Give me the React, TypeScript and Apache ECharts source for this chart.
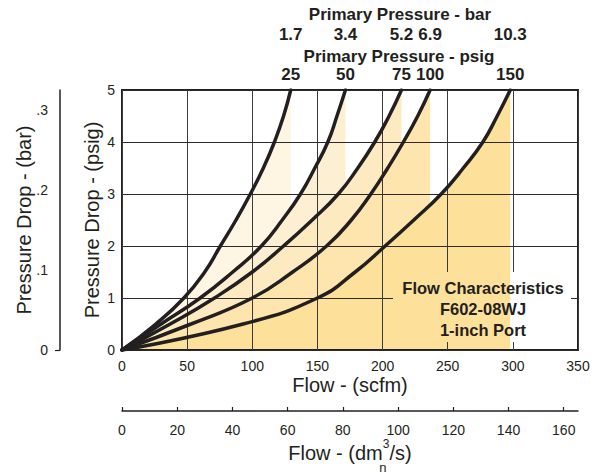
import React, { useEffect, useRef } from "react";
import * as echarts from "echarts";

// Pressure drop (psig) at which each curve's flow was read
const dropPsig = [0, 0.5, 1, 1.5, 2, 2.5, 3, 3.5, 4, 4.5, 5];
// Flow (scfm) of each primary-pressure curve at those pressure drops
const flow25 = [0, 26, 47.5, 63.5, 75.5, 87.5, 98.5, 108.5, 117, 124, 129.5];
const flow50 = [0, 30, 60, 85, 107, 123, 137, 148, 158, 165, 171.5];
const flow75 = [0, 37, 71, 100, 124, 146, 166, 181, 194, 205, 214.5];
const flow100 = [0, 53, 100, 131, 157, 176, 191, 204, 216, 227, 236.5];
const flow150 = [0, 93, 150, 179, 202, 224, 245, 262, 277, 288, 298];
const curveFlows = [flow25, flow50, flow75, flow100, flow150];

const primaryPsigLabels = ["25", "50", "75", "100", "150"];
const primaryBarLabels = ["1.7", "3.4", "5.2", "6.9", "10.3"];
const fillColors = ["#FEF6E2", "#FDF0D2", "#FDEAC1", "#FEE5AD", "#FDE19B"];

const dmTicks = [0, 20, 40, 60, 80, 100, 120, 140, 160];
const barTicks = [0, 0.1, 0.2, 0.3];
const SCFM_MAX = 350;
const SCFM_TO_DM3S = 0.4719;
const BAR_AXIS_MAX = 0.325;

const INK = "#231f20";
const FONT = "Liberation Sans, Arial, Helvetica, sans-serif";

const endFlows = curveFlows.map((f) => f[f.length - 1]);
const nearestEnd = (v: number) => {
  let best = 0;
  endFlows.forEach((e, i) => {
    if (Math.abs(e - v) < Math.abs(endFlows[best] - v)) best = i;
  });
  return best;
};

export default function App() {
  const ref = useRef<HTMLDivElement>(null);
  useEffect(() => {
    if (!ref.current) return;
    const chart = echarts.init(ref.current, null, { renderer: "svg" });
    const pts = (f: number[]) => f.map((x, j) => [x, dropPsig[j]]);
    const areaSeries = curveFlows.map((f, i) => ({
      type: "line",
      xAxisIndex: 0,
      yAxisIndex: 0,
      data: pts(f),
      smooth: 0.5,
      symbol: "none",
      lineStyle: { width: 0 },
      areaStyle: { color: fillColors[i], opacity: 1 },
      z: 1,
      silent: true,
    }));
    const lineSeries = curveFlows.map((f) => ({
      type: "line",
      xAxisIndex: 0,
      yAxisIndex: 0,
      data: pts(f),
      smooth: 0.5,
      symbol: "none",
      lineStyle: { width: 3.5, color: INK, cap: "round" },
      z: 3,
      silent: true,
    }));
    const labelStyle = { fontSize: 14, color: INK, fontFamily: FONT };
    const topLabel = { fontSize: 17, fontWeight: "bold", color: INK, fontFamily: FONT, margin: 6.7 };
    const option: any = {
      animation: false,
      backgroundColor: "#fff",
      grid: {
        left: 122,
        top: 90,
        width: 456,
        height: 260,
        show: true,
        borderColor: INK,
        borderWidth: 2,
        backgroundColor: "transparent",
        containLabel: false,
        outerBoundsMode: "none",
        z: 2,
      },
      xAxis: [
        {
          type: "value",
          min: 0,
          max: SCFM_MAX,
          interval: 50,
          position: "bottom",
          z: 2,
          axisLine: { show: false, onZero: false },
          axisTick: { show: false },
          splitLine: { show: true, lineStyle: { color: "#3a3a3a", width: 1 } },
          axisLabel: { ...labelStyle, margin: 9 },
          name: "Flow - (scfm)",
          nameLocation: "middle",
          nameGap: 25,
          nameMoveOverlap: false,
          nameTextStyle: { fontSize: 20, color: INK, fontFamily: FONT },
        },
        {
          type: "value",
          min: 0,
          max: SCFM_MAX,
          position: "top",
          offset: 0,
          axisLine: { show: false, onZero: false },
          axisTick: { show: false },
          splitLine: { show: false },
          axisLabel: {
            ...topLabel,
            customValues: endFlows,
            formatter: (v: number) => primaryPsigLabels[nearestEnd(v)],
          },
        },
        {
          type: "value",
          min: 0,
          max: SCFM_MAX,
          position: "top",
          offset: 40,
          axisLine: { show: false, onZero: false },
          axisTick: { show: false },
          splitLine: { show: false },
          axisLabel: {
            ...topLabel,
            customValues: endFlows,
            formatter: (v: number) => primaryBarLabels[nearestEnd(v)],
          },
        },
        {
          type: "value",
          min: 0,
          max: SCFM_MAX * SCFM_TO_DM3S,
          position: "bottom",
          offset: 61,
          axisLine: { show: true, onZero: false, lineStyle: { color: INK, width: 1.5 } },
          axisTick: { show: true, inside: true, length: 4, customValues: dmTicks, lineStyle: { color: INK, width: 1.2 } },
          splitLine: { show: false },
          axisLabel: { ...labelStyle, margin: 11.6, customValues: dmTicks },
          name: "{t|Flow - (dm}{n|n}{s|3}{t|/s)}",
          nameLocation: "middle",
          nameGap: 21.8,
          nameMoveOverlap: false,
          nameTextStyle: {
            fontSize: 20,
            color: INK,
            fontFamily: FONT,
            rich: {
              t: { fontSize: 20, lineHeight: 41, color: INK, fontFamily: FONT },
              s: { fontSize: 12, lineHeight: 12, verticalAlign: "top", padding: [5.5, 0, 0, 0], color: INK, fontFamily: FONT },
              n: { fontSize: 13, lineHeight: 13, verticalAlign: "bottom", width: 0, align: "center", color: INK, fontFamily: FONT },
            },
          },
        },
      ],
      yAxis: [
        {
          type: "value",
          min: 0,
          max: 5,
          interval: 1,
          position: "left",
          z: 2,
          axisLine: { show: false, onZero: false },
          axisTick: { show: false },
          splitLine: { show: true, lineStyle: { color: "#2a2a2a", width: 1 } },
          axisLabel: { ...labelStyle, margin: 7 },
          name: "Pressure Drop - (psig)",
          nameLocation: "middle",
          nameGap: 20.5,
          nameMoveOverlap: false,
          nameTextStyle: { fontSize: 20, color: INK, fontFamily: FONT },
        },
        {
          type: "value",
          min: 0,
          max: BAR_AXIS_MAX,
          position: "left",
          offset: 62,
          axisLine: { show: true, onZero: false, lineStyle: { color: INK, width: 1.5 } },
          axisTick: { show: true, length: 5, customValues: [0], lineStyle: { color: INK, width: 1.2 } },
          splitLine: { show: false },
          axisLabel: {
            ...labelStyle,
            margin: 12,
            customValues: barTicks,
            formatter: (v: number) => (v === 0 ? "0" : "." + Math.round(v * 10)),
          },
          name: "Pressure Drop - (bar)",
          nameLocation: "middle",
          nameGap: 26,
          nameMoveOverlap: false,
          nameTextStyle: { fontSize: 20, color: INK, fontFamily: FONT },
        },
      ],
      series: [...areaSeries, ...lineSeries],
    };
    chart.setOption(option);

    const edge = chart.convertToPixel({ xAxisIndex: 0 } as any, flow150[flow150.length - 1]) as number;
    const boxL = 393, boxR = 571, boxT = 272, boxB = 342;
    chart.setOption({
      graphic: [
        { type: "rect", z: 20, shape: { x: boxL, y: boxT, width: edge - boxL, height: boxB - boxT }, style: { fill: fillColors[4] }, silent: true },
        { type: "rect", z: 20, shape: { x: edge, y: boxT, width: boxR - edge, height: boxB - boxT }, style: { fill: "#fff" }, silent: true },
        {
          type: "text",
          z: 21,
          x: 483,
          y: 309.3,
          style: {
            text: "Flow Characteristics\nF602-08WJ\n1-inch Port",
            fill: INK,
            font: `bold 16.5px ${FONT}`,
            textAlign: "center",
            textVerticalAlign: "middle",
            lineHeight: 21,
          },
        },
        {
          type: "text",
          z: 21,
          x: 400,
          y: 14.1,
          style: { text: "Primary Pressure - bar", fill: INK, font: `bold 17px ${FONT}`, textAlign: "center", textVerticalAlign: "middle" },
        },
        {
          type: "text",
          z: 21,
          x: 399,
          y: 56.8,
          style: { text: "Primary Pressure - psig", fill: INK, font: `bold 17px ${FONT}`, textAlign: "center", textVerticalAlign: "middle" },
        },
      ],
    });
    return () => chart.dispose();
  }, []);
  return (
    <div
      ref={ref}
      style={{ position: "fixed", left: 0, top: 0, width: 599, height: 474, background: "#fff" }}
    />
  );
}
